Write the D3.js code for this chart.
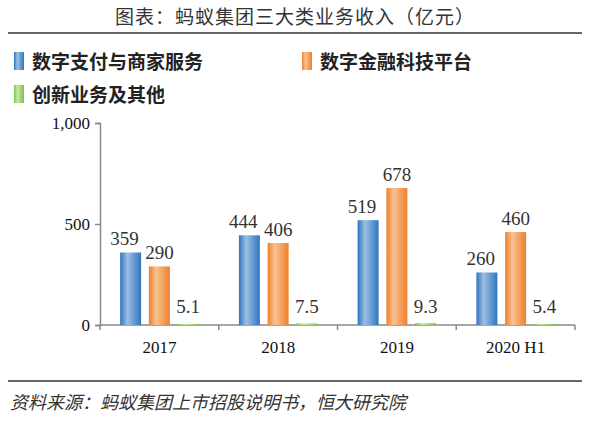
<!DOCTYPE html>
<html lang="zh">
<head>
<meta charset="utf-8" />
<script src="https://d3js.org/d3.v7.min.js"></script>
<style>body{margin:0;background:#fff;}</style>
</head>
<body>
<script>
const categories = ["2017", "2018", "2019", "2020 H1"];
const seriesNames = ["数字支付与商家服务", "数字金融科技平台", "创新业务及其他"];
const payments = [359, 444, 519, 260];
const fintech = [290, 406, 678, 460];
const innovation = [5.1, 7.5, 9.3, 5.4];
const yTicks = [0, 500, 1000];

const W = 590, H = 423;
const plotLeft = 100, plotRight = 575, plotTop = 123, plotBottom = 325;
const serif = "'Liberation Serif','Times New Roman',serif";
const cjk = "'Noto Sans CJK SC',sans-serif";

const svg = d3.select("body").append("svg").attr("width", W).attr("height", H);
const defs = svg.append("defs");
function grad(id, dark, light) {
  const g = defs.append("linearGradient").attr("id", id).attr("x1", 0).attr("x2", 1).attr("y1", 0).attr("y2", 0);
  g.append("stop").attr("offset", "0%").attr("stop-color", dark);
  g.append("stop").attr("offset", "35%").attr("stop-color", light);
  g.append("stop").attr("offset", "100%").attr("stop-color", dark);
}
grad("gBlue", "#2e75c0", "#9dbfe3");
grad("gOrange", "#ef7f2a", "#f8c293");
grad("gGreen", "#7cc34a", "#c6e8a6");
const fills = ["url(#gBlue)", "url(#gOrange)", "url(#gGreen)"];

// title
svg.append("text").attr("x", W / 2).attr("y", 24).attr("text-anchor", "middle")
  .attr("font-family", cjk).attr("font-size", 19).attr("fill", "#333").attr("letter-spacing", 1)
  .text("图表：蚂蚁集团三大类业务收入（亿元）");
svg.append("line").attr("x1", 8).attr("x2", 582).attr("y1", 33).attr("y2", 33).attr("stroke", "#333").attr("stroke-width", 1.5);

// legend
const legendItems = [[seriesNames[0], 14, 62], [seriesNames[1], 302, 62], [seriesNames[2], 14, 95]];
legendItems.forEach(([name, x, y], i) => {
  svg.append("rect").attr("x", x).attr("y", y - 10).attr("width", 10).attr("height", 18).attr("fill", fills[i]);
  svg.append("text").attr("x", x + 18).attr("y", y + 7).attr("font-family", cjk).attr("font-weight", "bold")
    .attr("font-size", 19).attr("fill", "#222").text(name);
});

const x = d3.scaleBand().domain(categories).range([plotLeft, plotRight]);
const y = d3.scaleLinear().domain([0, 1000]).range([plotBottom, plotTop]);

// axes
const yAxis = svg.append("g").attr("transform", `translate(${plotLeft},0)`)
  .call(d3.axisLeft(y).tickValues(yTicks).tickSize(5).tickFormat(d3.format(",")));
const xAxis = svg.append("g").attr("transform", `translate(0,${plotBottom})`)
  .call(d3.axisBottom(x).tickSize(0).tickPadding(16));
[yAxis, xAxis].forEach(a => {
  a.selectAll("path,line").attr("stroke", "#888").attr("stroke-width", 1.5);
  a.selectAll("text").attr("font-family", serif).attr("font-size", 17).attr("fill", "#111");
});
yAxis.selectAll("text").attr("dx", -2);
xAxis.select(".domain").attr("d", `M${plotLeft},0H${plotRight}`);
svg.append("g").selectAll("line").data(d3.range(categories.length + 1)).join("line")
  .attr("x1", i => plotLeft + i * x.step()).attr("x2", i => plotLeft + i * x.step())
  .attr("y1", plotBottom).attr("y2", plotBottom + 5).attr("stroke", "#888").attr("stroke-width", 1.5);

const inner = d3.scaleBand().domain([0, 1, 2]).range([0, x.bandwidth()]).paddingInner(0.27).paddingOuter(0.7);
const series = [payments, fintech, innovation];
const labelDx = [-6, 0, 0];
series.forEach((vals, s) => {
  const g = svg.append("g");
  g.selectAll("rect").data(vals).join("rect")
    .attr("x", (d, i) => x(categories[i]) + inner(s))
    .attr("y", d => y(d)).attr("width", inner.bandwidth())
    .attr("height", d => plotBottom - y(d)).attr("fill", fills[s]);
  g.selectAll("text").data(vals).join("text")
    .attr("x", (d, i) => x(categories[i]) + inner(s) + inner.bandwidth() / 2 + labelDx[s])
    .attr("y", d => s === 2 ? plotBottom - 12 : y(d) - 7)
    .attr("text-anchor", "middle").attr("font-family", serif).attr("font-size", 19).attr("fill", "#333")
    .text(d => d);
});

// footer
svg.append("line").attr("x1", 8).attr("x2", 582).attr("y1", 381).attr("y2", 381).attr("stroke", "#333").attr("stroke-width", 1.5);
svg.append("text").attr("x", 10).attr("y", 409).attr("font-family", cjk).attr("font-style", "italic")
  .attr("font-size", 18).attr("fill", "#333").text("资料来源：蚂蚁集团上市招股说明书，恒大研究院");
</script>
</body>
</html>
